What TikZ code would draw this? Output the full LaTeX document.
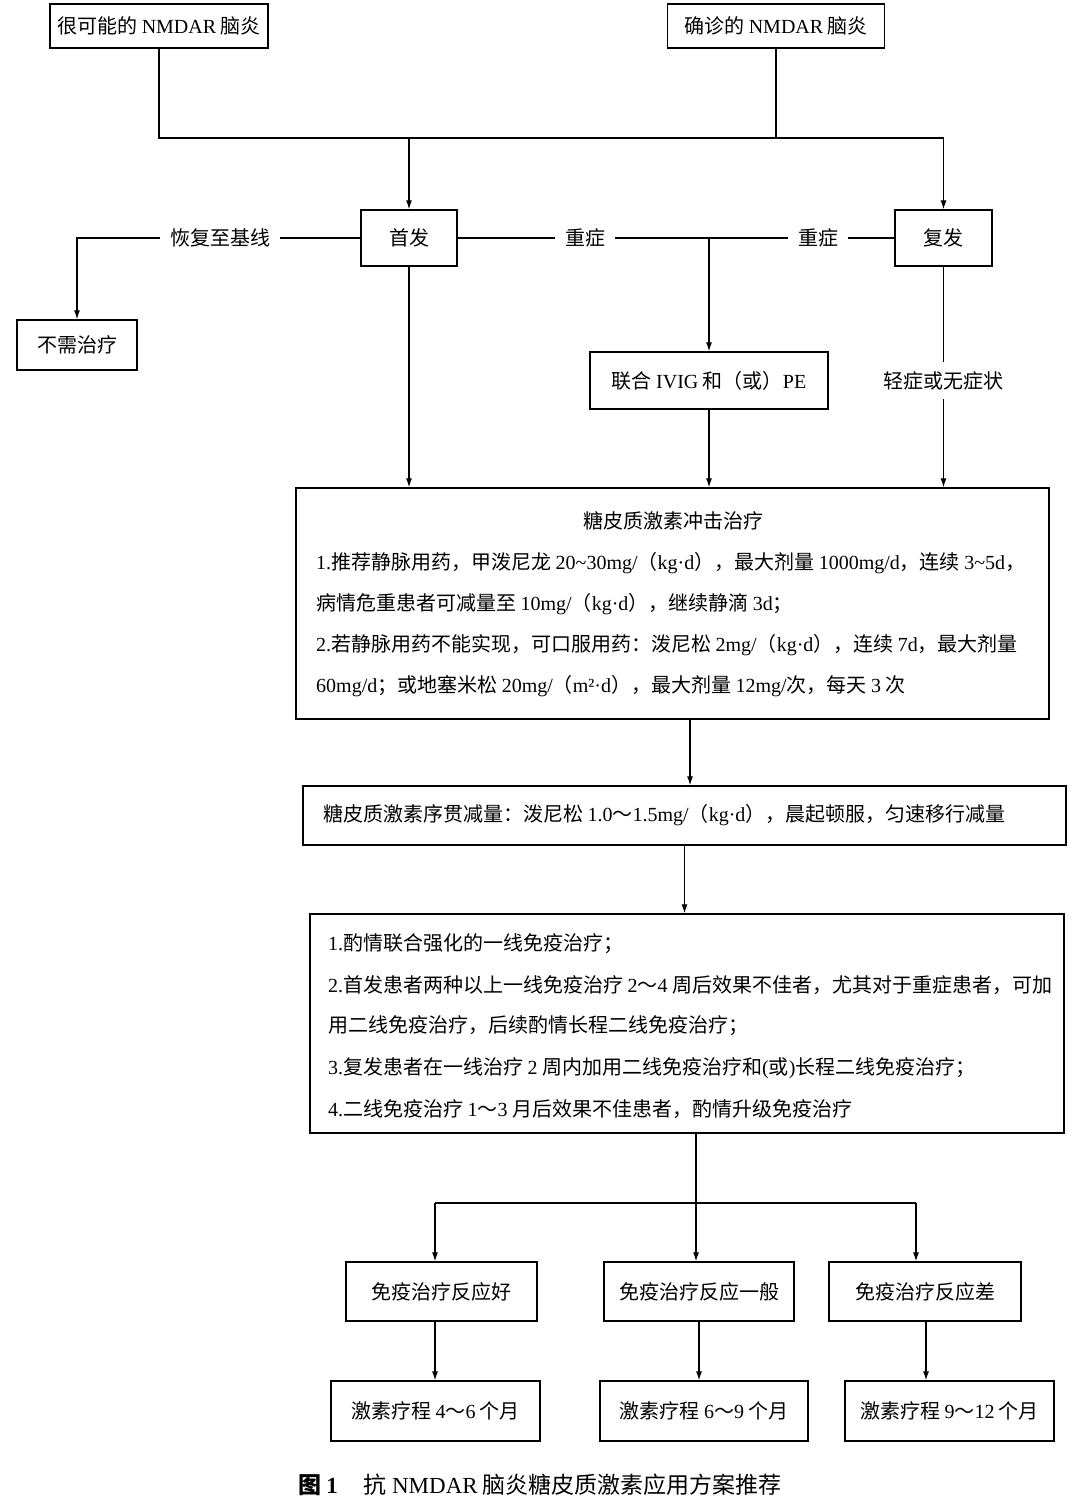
\documentclass[tikz,border=0pt]{standalone}
\usepackage{fontspec}
\setmainfont{Noto Sans CJK SC}
\newfontfamily\tnrfont{Liberation Serif}
\newcommand\tnr[1]{{\tnrfont #1}}
\usetikzlibrary{arrows.meta}

\begin{document}
\begin{tikzpicture}[
    x = 1pt, y = -1pt,
    every node/.style = {
      font = \fontsize{20}{22}\selectfont, inner sep = 0pt
    },
    box/.style = { draw, rectangle, line width = 1.3pt },
    line/.style = { line width = 1.2pt },
    arrow/.style = { line width = 1.2pt, -{Latex[length = 9pt, width = 6pt]} },
    label/.style = { fill = white, inner xsep = 10pt, inner ysep = 9pt },
    textline/.style = { anchor = west }
  ]
  \useasboundingbox (0, 0) rectangle (1080, 1506);

  \node[box, minimum width = 218, minimum height = 44] (likely) at (159, 26)
    {很可能的 \tnr{NMDAR} 脑炎};
  \node[box, minimum width = 217, minimum height = 44] (confirmed) at (776, 26)
    {确诊的 \tnr{NMDAR} 脑炎};
  \node[box, minimum width = 96, minimum height = 56] (first) at (409, 238) {首发};
  \node[box, minimum width = 97, minimum height = 56] (relapse) at (943.5, 238) {复发};
  \node[box, minimum width = 120, minimum height = 50] (none) at (77, 345) {不需治疗};
  \node[box, minimum width = 238, minimum height = 57] (ivig) at (709, 380.5)
    {联合 \tnr{IVIG} 和（或）\tnr{PE}};
  \node[box, minimum width = 753, minimum height = 231] (pulse) at (672.5, 603.5) {};
  \node[box, minimum width = 763, minimum height = 59] (taper) at (684.5, 815.5) {};
  \node[box, minimum width = 754, minimum height = 219] (immune) at (687, 1023.5) {};
  \node[box, minimum width = 191, minimum height = 59] (good) at (441.5, 1291.5)
    {免疫治疗反应好};
  \node[box, minimum width = 190, minimum height = 59] (fair) at (699, 1291.5)
    {免疫治疗反应一般};
  \node[box, minimum width = 192, minimum height = 59] (poor) at (925, 1291.5)
    {免疫治疗反应差};
  \node[box, minimum width = 209, minimum height = 60] (short) at (435.5, 1411)
    {激素疗程 \tnr{4}～\tnr{6} 个月};
  \node[box, minimum width = 208, minimum height = 60] (medium) at (704, 1411)
    {激素疗程 \tnr{6}～\tnr{9} 个月};
  \node[box, minimum width = 209, minimum height = 60] (long) at (949.5, 1411)
    {激素疗程 \tnr{9}～\tnr{12} 个月};

  \node (pulse-title) at (673, 521) {糖皮质激素冲击治疗};
  \node[textline] (pulse-1) at (316, 563)
    {\tnr{1.}推荐静脉用药，甲泼尼龙 \tnr{20\textasciitilde30mg/}（\tnr{kg·d}），最大剂量 \tnr{1000mg/d}，连续 \tnr{3\textasciitilde5d}，};
  \node[textline] (pulse-2) at (316, 604)
    {病情危重患者可减量至 \tnr{10mg/}（\tnr{kg·d}），继续静滴 \tnr{3d}；};
  \node[textline] (pulse-3) at (316, 645)
    {\tnr{2.}若静脉用药不能实现，可口服用药：泼尼松 \tnr{2mg/}（\tnr{kg·d}），连续 \tnr{7d}，最大剂量};
  \node[textline] (pulse-4) at (316, 686)
    {\tnr{60mg/d}；或地塞米松 \tnr{20mg/}（\tnr{m²·d}），最大剂量 \tnr{12mg/}次，每天 \tnr{3} 次};
  \node[textline] (taper-text) at (323, 815)
    {糖皮质激素序贯减量：泼尼松 \tnr{1.0}～\tnr{1.5mg/}（\tnr{kg·d}），晨起顿服，匀速移行减量};
  \node[textline] (immune-1) at (328, 944)
    {\tnr{1.}酌情联合强化的一线免疫治疗；};
  \node[textline] (immune-2) at (328, 985)
    {\tnr{2.}首发患者两种以上一线免疫治疗 \tnr{2}～\tnr{4} 周后效果不佳者，尤其对于重症患者，可加};
  \node[textline] (immune-3) at (328, 1026)
    {用二线免疫治疗，后续酌情长程二线免疫治疗；};
  \node[textline] (immune-4) at (328, 1068)
    {\tnr{3.}复发患者在一线治疗 \tnr{2} 周内加用二线免疫治疗和\tnr{(}或\tnr{)}长程二线免疫治疗；};
  \node[textline] (immune-5) at (328, 1109)
    {\tnr{4.}二线免疫治疗 \tnr{1}～\tnr{3} 月后效果不佳患者，酌情升级免疫治疗};

  \coordinate (split) at (943.5, 138);
  \coordinate (taper-in) at (690, 719);
  \coordinate (fork) at (696, 1203);
  \coordinate (good-in) at (435, 1203);
  \coordinate (poor-in) at (916, 1203);
  \coordinate (poor-out) at (926, 1321);

  \draw[line] (likely.south) |- (split);
  \draw[line] (confirmed.south) -- (confirmed.south |- split);
  \draw[arrow] (split) -- (relapse.north);
  \draw[arrow] (first.north |- split) -- (first.north);

  \draw[arrow] (first.west) -| (none.north);
  \draw[line] (first.east) -- (relapse.west);
  \draw[arrow] (ivig.north |- first.east) -- (ivig.north);
  \node[label] (baseline) at (220, 238) {恢复至基线};
  \node[label] (severe-first) at (585, 238) {重症};
  \node[label] (severe-relapse) at (818, 238) {重症};

  \draw[arrow] (first.south) -- (first.south |- pulse.north);
  \draw[arrow] (ivig.south) -- (ivig.south |- pulse.north);
  \draw[arrow] (relapse.south) -- (relapse.south |- pulse.north);
  \node[label] (mild) at (relapse.south |- ivig) {轻症或无症状};

  \draw[arrow] (taper-in) -- (taper-in |- taper.north);
  \draw[arrow] (taper.south) -- (taper.south |- immune.north);
  \draw[line] (fork |- immune.south) -- (fork);
  \draw[line] (good-in) -- (poor-in);
  \draw[arrow] (good-in) -- (good-in |- good.north);
  \draw[arrow] (fork) -- (fork |- fair.north);
  \draw[arrow] (poor-in) -- (poor-in |- poor.north);

  \draw[arrow] (good-in |- good.south) -- (good-in |- short.north);
  \draw[arrow] (fair.south) -- (fair.south |- medium.north);
  \draw[arrow] (poor-out) -- (poor-out |- long.north);

  \node[anchor = west, font = \fontsize{23}{25}\selectfont] (caption) at (298, 1485)
    {\textbf{图 \tnr{1}}\hspace{26pt}抗 \tnr{NMDAR} 脑炎糖皮质激素应用方案推荐};
\end{tikzpicture}
\end{document}
